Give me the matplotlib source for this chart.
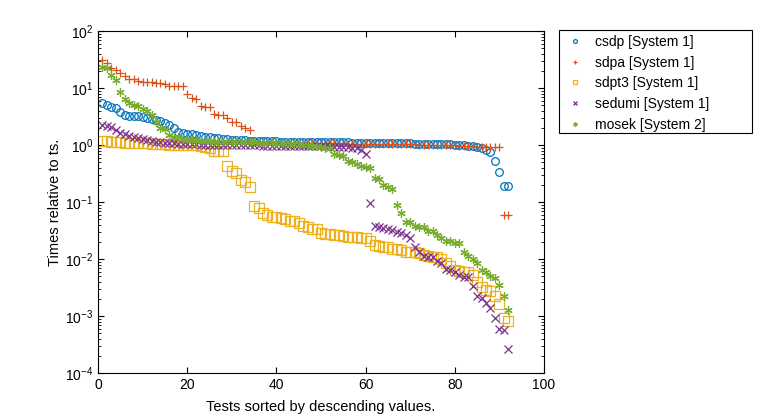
import matplotlib
matplotlib.use('Agg')
import matplotlib.pyplot as plt
from matplotlib.patches import Rectangle
from matplotlib.ticker import LogLocator, NullFormatter

plt.rcParams['font.family'] = ['Liberation Sans', 'DejaVu Sans']
plt.rcParams['font.size'] = 10

# times relative to ts, each solver sorted descending (92 tests)
csdp = [5.5, 5.0, 4.6, 4.4, 3.8, 3.3, 3.2, 3.2, 3.2, 3.1,
        3.0, 2.9, 2.7, 2.6, 2.45, 2.2, 2.0, 1.7, 1.6, 1.55,
        1.55, 1.5, 1.42, 1.38, 1.36, 1.34, 1.32, 1.3, 1.25, 1.22,
        1.2, 1.2, 1.2,
        1.19, 1.18, 1.18, 1.17, 1.17, 1.16, 1.16, 1.15, 1.15, 1.15,
        1.14, 1.14, 1.14, 1.13, 1.13, 1.13, 1.12, 1.12, 1.12, 1.12,
        1.11, 1.11, 1.11, 1.10, 1.10, 1.10, 1.10, 1.09, 1.09, 1.09,
        1.08, 1.08, 1.08, 1.08, 1.07, 1.07, 1.07, 1.06, 1.06, 1.06,
        1.05, 1.05, 1.05, 1.04, 1.04, 1.03, 1.02, 1.01, 1.0, 0.98,
        0.95, 0.92, 0.88, 0.82, 0.76, 0.52, 0.33, 0.19, 0.19]

sdpa = [31, 27, 22, 21, 18.6, 16, 14.2, 14.2, 13.4, 12.9,
        12.9, 12.9, 12.4, 12.1, 11.7, 11.0, 10.9, 10.9, 10.9, 7.8,
        6.8, 6.3, 4.9, 4.6, 4.6, 3.45, 3.4, 3.4, 2.94, 2.56,
        2.56, 2.15, 1.96, 1.83,
        1.12, 1.12, 1.11, 1.11, 1.11, 1.10, 1.10, 1.10, 1.10, 1.09,
        1.09, 1.09, 1.09, 1.08, 1.08, 1.08, 1.08, 1.07, 1.07, 1.07,
        1.07, 1.06, 1.06, 1.06, 1.06, 1.05, 1.05, 1.05, 1.05, 1.04,
        1.04, 1.04, 1.04, 1.03, 1.03, 1.03, 1.03, 1.02, 1.02, 1.02,
        1.01, 1.01, 1.0, 1.0, 0.99, 0.99, 0.98, 0.97, 0.96, 0.95,
        0.94, 0.93, 0.92, 0.92, 0.91, 0.91, 0.058, 0.058]

sdpt3 = [1.18, 1.18, 1.11, 1.11, 1.11,
         1.08, 1.08, 1.07, 1.07, 1.07, 1.07, 1.06, 1.06, 1.06, 1.05,
         1.0, 1.0, 1.0, 1.0, 1.0, 1.0, 1.0,
         0.96, 0.93, 0.87, 0.79, 0.79, 0.79,
         0.43, 0.35, 0.32, 0.24, 0.22, 0.18,
         0.085, 0.077, 0.063, 0.059, 0.055, 0.055, 0.052, 0.050, 0.046, 0.046,
         0.042, 0.038, 0.036, 0.033, 0.033, 0.029, 0.028, 0.0275, 0.026, 0.026,
         0.025, 0.0246, 0.0246, 0.024, 0.023, 0.023, 0.021, 0.0176, 0.017,
         0.016, 0.016, 0.015, 0.015,
         0.0144, 0.0131, 0.0131, 0.0131, 0.0126, 0.0118, 0.0113, 0.0107, 0.0107, 0.0099,
         0.0086, 0.0075, 0.0064, 0.0062, 0.006, 0.0058, 0.0052, 0.004, 0.0032, 0.0029,
         0.0027, 0.0022, 0.0016, 0.00091, 0.00082]

sedumi = [2.24, 2.15, 2.04, 1.83, 1.64, 1.56, 1.44, 1.36, 1.31, 1.26, 1.22,
          1.18, 1.15, 1.12, 1.1, 1.08, 1.07, 1.06, 1.05, 1.04,
          1.03, 1.03, 1.02, 1.02, 1.02, 1.01, 1.01, 1.01, 1.0, 1.0,
          1.0, 1.0, 0.99, 0.99, 0.99, 0.99, 0.98, 0.98, 0.98, 0.98,
          0.97, 0.97, 0.97, 0.97, 0.96, 0.96, 0.96, 0.96, 0.95, 0.95,
          0.95, 0.94, 0.94, 0.93, 0.92,
          0.91, 0.89, 0.87, 0.82, 0.69,
          0.097, 0.038, 0.037,
          0.035, 0.033, 0.032, 0.030,
          0.029, 0.0263, 0.023, 0.0165, 0.0131, 0.0113, 0.011, 0.011, 0.0093, 0.0084,
          0.0066, 0.0064, 0.006, 0.0052, 0.0049, 0.0048, 0.0033, 0.0022, 0.0021, 0.0017,
          0.0014, 0.00091, 0.00059, 0.00057, 0.00026]

mosek = [23.6, 22.7, 16.9, 13.8, 8.6, 6.3, 5.5, 5.0, 4.8, 4.2,
         4.0, 3.4, 2.56, 2.0, 1.9, 1.5, 1.36, 1.36,
         1.3, 1.25, 1.22, 1.2, 1.18, 1.17, 1.16, 1.15, 1.15, 1.14, 1.14, 1.13,
         1.13, 1.12, 1.12, 1.11, 1.11, 1.1, 1.1, 1.09, 1.09, 1.08,
         1.07, 1.06, 1.05, 1.04, 1.03, 1.02, 1.0,
         0.98, 0.95, 0.92, 0.9, 0.88,
         0.69, 0.66, 0.63, 0.52, 0.51, 0.46, 0.42, 0.41, 0.39, 0.26,
         0.25, 0.2, 0.18, 0.17, 0.089, 0.065,
         0.045, 0.044, 0.038, 0.037, 0.036, 0.0315, 0.031, 0.0263, 0.023, 0.021,
         0.021, 0.0194, 0.019, 0.0135, 0.0113, 0.0099, 0.0084, 0.0064, 0.0058, 0.005,
         0.0046, 0.0035, 0.0022, 0.0013]

labels = ['csdp [System 1]', 'sdpa [System 1]', 'sdpt3 [System 1]',
          'sedumi [System 1]', 'mosek [System 2]']
colors = ['#0072BD', '#D95319', '#EDB120', '#7E2F8E', '#77AC30']
markers = ['o', '+', 's', 'x', (6, 2, 0)]
sizes = [5.5, 6, 6.5, 5.5, 6]

fig = plt.figure(figsize=(7.6, 4.2), dpi=100)
ax = fig.add_axes([98 / 760, 1 - 373 / 420, 446 / 760, 342 / 420])

for vals, lab, c, m, s in zip([csdp, sdpa, sdpt3, sedumi, mosek], labels, colors, markers, sizes):
    xs = range(1, len(vals) + 1)
    if m in ('o', 's'):
        ax.plot(xs, vals, linestyle='none', marker=m, ms=s, mfc='none', mec=c, mew=0.9, label=lab)
    else:
        ax.plot(xs, vals, linestyle='none', marker=m, ms=s, color=c, mew=0.9, label=lab)

ax.set_yscale('log')
ax.set_ylim(1e-4, 1e2)
ax.set_xlim(0, 100)
ax.set_xticks([0, 20, 40, 60, 80, 100])
ax.yaxis.set_major_locator(LogLocator(base=10, numticks=10))
ax.yaxis.set_minor_locator(LogLocator(base=10, subs=range(2, 10), numticks=20))
ax.yaxis.set_minor_formatter(NullFormatter())
ax.tick_params(which='both', direction='in', top=True, right=True, labelsize=10)
ax.tick_params(which='major', length=4, width=0.8)
ax.tick_params(which='minor', length=2.5, width=0.6)
for sp in ax.spines.values():
    sp.set_linewidth(0.8)

ax.set_xlabel('Tests sorted by descending values.', fontsize=10.5, labelpad=6)
ax.set_ylabel('Times relative to ts.', fontsize=10.5, labelpad=2)

# legend entries without frame, box drawn separately (octave style, wide right padding)
leg = ax.legend(loc='upper left', bbox_to_anchor=(568 / 760, 1 - 35 / 420),
                bbox_transform=fig.transFigure, frameon=False, markerscale=0.5,
                handlelength=1.0, handletextpad=0.95, borderpad=0, borderaxespad=0,
                labelspacing=0.48, fontsize=10)
fig.add_artist(Rectangle((559 / 760, 1 - 133 / 420), 193 / 760, 103 / 420,
                         transform=fig.transFigure, fill=False, lw=0.8, ec='black'))

fig.savefig('out.png', dpi=100)
